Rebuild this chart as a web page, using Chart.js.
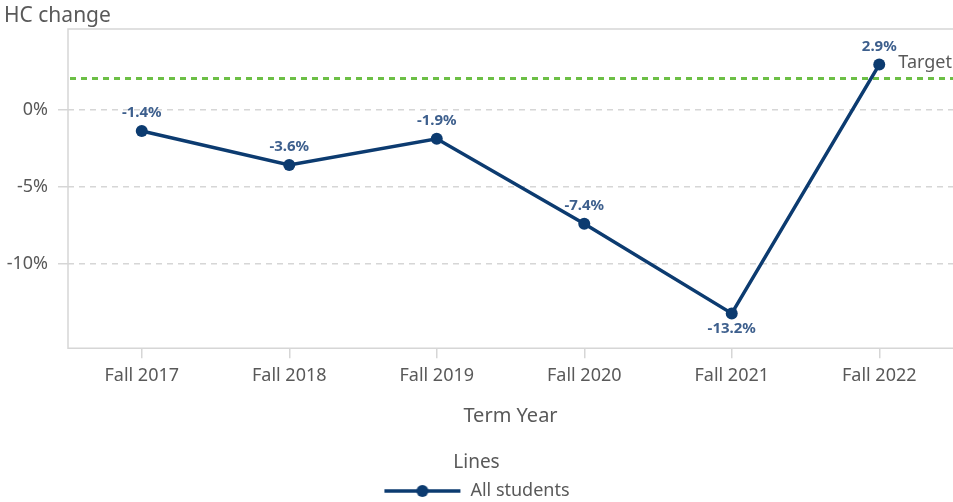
<!DOCTYPE html>
<html>
<head>
<meta charset="utf-8">
<script src="https://cdn.jsdelivr.net/npm/chart.js@4.4.1/dist/chart.umd.min.js"></script>
<style>
  html, body { margin: 0; padding: 0; background: #ffffff; }
  #wrap { width: 953px; height: 502px; }
</style>
</head>
<body>
<div id="wrap"><canvas id="c" width="953" height="502"></canvas></div>
<script>
// ---- data ----
const categories = ['Fall 2017', 'Fall 2018', 'Fall 2019', 'Fall 2020', 'Fall 2021', 'Fall 2022'];
const hcChange = [-1.4, -3.6, -1.9, -7.4, -13.2, 2.9];
const seriesName = 'All students';
const targetValue = 2;
const targetLabel = 'Target';
const yTickValues = [-10, -5, 0];
const yMin = -15.45;
const yMax = 5.2;
const yAxisTitle = 'HC change';
const xAxisTitle = 'Term Year';
const legendTitle = 'Lines';

const FONT = "'Noto Sans', 'DejaVu Sans', sans-serif";
const TEXT = '#595959';
const LINE = '#0c3b70';
const LABEL = '#3d5f8d';
const GREEN = '#6cbf45';
const GRID = '#d6d6d6';

// legend symbol: line with a dot
const sym = document.createElement('canvas');
sym.width = 78; sym.height = 14;
(function () {
  const g = sym.getContext('2d');
  g.strokeStyle = LINE; g.lineWidth = 3.5;
  g.beginPath(); g.moveTo(1, 7); g.lineTo(77, 7); g.stroke();
  g.fillStyle = LINE;
  g.beginPath(); g.arc(39, 7, 6, 0, Math.PI * 2); g.fill();
})();

const decorPlugin = {
  id: 'decor',
  beforeDatasetsDraw(chart) {
    const { ctx, chartArea: a, scales } = chart;
    ctx.save();
    // frame: left, top, bottom
    ctx.strokeStyle = GRID; ctx.lineWidth = 1.5;
    ctx.beginPath();
    ctx.moveTo(a.right + 2, a.top); ctx.lineTo(a.left, a.top); ctx.lineTo(a.left, a.bottom); ctx.lineTo(a.right + 2, a.bottom);
    ctx.stroke();
    // target line
    const ty = scales.y.getPixelForValue(targetValue);
    ctx.strokeStyle = GREEN; ctx.lineWidth = 3; ctx.setLineDash([6, 5]);
    ctx.beginPath(); ctx.moveTo(a.left + 2, ty); ctx.lineTo(a.right, ty); ctx.stroke();
    ctx.setLineDash([]);
    ctx.fillStyle = TEXT; ctx.font = "18px " + FONT;
    ctx.textAlign = 'right'; ctx.textBaseline = 'middle';
    ctx.fillText(targetLabel, a.right - 1, ty - 16);
    // y axis title
    ctx.textAlign = 'left';
    ctx.font = "21px " + FONT;
    ctx.fillText(yAxisTitle, 4, 16);
    ctx.restore();
  },
  afterDatasetsDraw(chart) {
    const { ctx } = chart;
    const meta = chart.getDatasetMeta(0);
    const lowest = Math.min(...hcChange);
    ctx.save();
    ctx.fillStyle = LABEL; ctx.font = "bold 15px " + FONT;
    ctx.textAlign = 'center'; ctx.textBaseline = 'middle';
    meta.data.forEach((pt, i) => {
      const v = hcChange[i];
      const dy = v === lowest ? 15 : -18;
      ctx.fillText(v.toFixed(1) + '%', pt.x, pt.y + dy);
    });
    ctx.restore();
  }
};

new Chart(document.getElementById('c'), {
  type: 'line',
  data: {
    labels: categories,
    datasets: [{
      label: seriesName,
      data: hcChange,
      borderColor: LINE,
      backgroundColor: LINE,
      borderWidth: 3.5,
      pointRadius: 6,
      pointHoverRadius: 6,
      pointBackgroundColor: LINE,
      pointBorderWidth: 0,
      tension: 0,
      clip: false
    }]
  },
  options: {
    responsive: false,
    animation: false,
    devicePixelRatio: 1,
    layout: { autoPadding: false, padding: { top: 29, left: 0, right: 0, bottom: -8 } },
    plugins: {
      tooltip: { enabled: false },
      title: { display: false },
      legend: {
        display: true,
        position: 'bottom',
        align: 'center',
        title: { display: true, text: legendTitle, color: TEXT, font: { family: FONT, size: 19 }, padding: 0 },
        labels: {
          usePointStyle: true,
          pointStyle: sym,
          pointStyleWidth: 78,
          boxHeight: 14,
          padding: 6,
          color: TEXT,
          font: { family: FONT, size: 18 }
        }
      }
    },
    scales: {
      x: {
        type: 'category',
        offset: true,
        grid: { display: true, drawOnChartArea: false, drawTicks: true, tickLength: 10, color: GRID, lineWidth: 1.5, offset: false },
        border: { display: false },
        ticks: { color: TEXT, font: { family: FONT, size: 18 }, padding: 7, maxRotation: 0, autoSkip: false },
        title: { display: true, text: xAxisTitle, color: TEXT, font: { family: FONT, size: 20 }, padding: { top: 0, bottom: 25 } },
        afterFit(s) { s.height = 105; s.paddingLeft = 0; s.paddingRight = 0; }
      },
      y: {
        type: 'linear',
        min: yMin,
        max: yMax,
        afterBuildTicks(s) { s.ticks = yTickValues.map(v => ({ value: v })); },
        grid: { color: GRID, lineWidth: 1.5, drawTicks: true, tickLength: 10 },
        border: { display: false, dash: [6, 5] },
        ticks: { color: TEXT, font: { family: FONT, size: 18 }, padding: 10, callback: v => v + '%' },
        afterFit(s) { s.width = 68; s.paddingTop = 0; s.paddingBottom = 0; }
      }
    }
  },
  plugins: [decorPlugin]
});
</script>
</body>
</html>
